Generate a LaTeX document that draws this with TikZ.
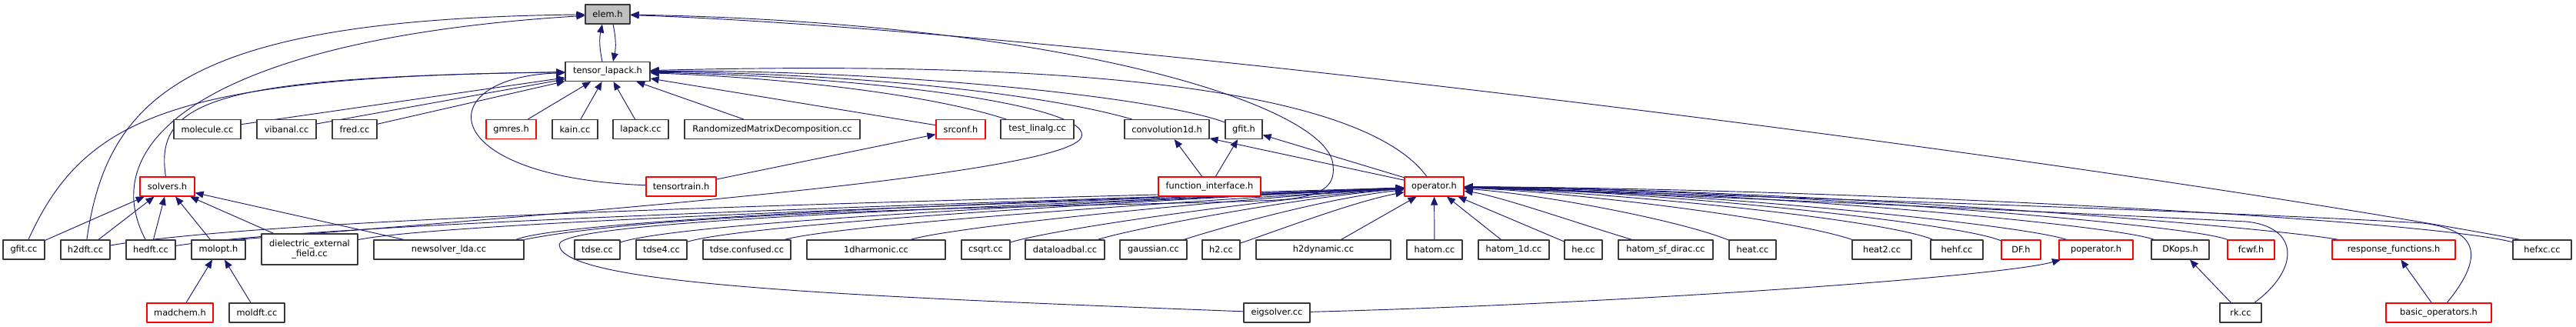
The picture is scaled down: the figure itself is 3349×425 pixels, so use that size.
\documentclass[tikz,border=0pt]{standalone}
\usepackage{fontspec}
\setmainfont{DejaVu Sans}
\usepackage{tikz}
\usepackage{xcolor}
\usetikzlibrary{arrows.meta, positioning, calc, backgrounds}
\definecolor{edgeblue}{HTML}{191970}
\definecolor{truncred}{HTML}{FF0000}
\definecolor{rootgray}{HTML}{BFBFBF}

\begin{document}
\begin{tikzpicture}[x=0.03cm, y=-0.03cm, line join=round,
    file/.style={draw=black!78, fill=white, line width=1pt, minimum height=0.75cm,
      inner sep=0pt, font=\fontsize{9.7}{11.6}\selectfont},
    trunc/.style={file, draw=truncred},
    bw/.style={minimum width=#1*0.03cm},
    edge/.style={draw=edgeblue, line width=0.8pt, -{Triangle[length=0.33cm, width=0.27cm]}}]
    \useasboundingbox (0,0) rectangle (3349,425);
    % Wurzel und Ebene 1
    \node[file, bw=58, fill=rootgray] (elem) at (790,18.5) {elem.h};
    \node[file, bw=110] (tlapack) at (790,93) {tensor\_lapack.h};
    % Ebene 2
    \node[file, bw=87] (molecule) at (269.5,168) {molecule.cc};
    \node[file, bw=77] (vibanal) at (372.5,168) {vibanal.cc};
    \node[file, bw=58] (fred) at (461,168) {fred.cc};
    \node[trunc, bw=65] (gmres) at (664.5,168) {gmres.h};
    \node[file, bw=59] (kain) at (747.5,168) {kain.cc};
    \node[file, bw=72] (lapack) at (833,168) {lapack.cc};
    \node[file, bw=228] (rmd) at (1004,168) {RandomizedMatrixDecomposition.cc};
    \node[trunc, bw=64] (srconf) at (1249,168) {srconf.h};
    \node[file, bw=95] (testlinalg) at (1348.5,168) {test\_linalg.cc};
    \node[file, bw=110] (conv1d) at (1517,168) {convolution1d.h};
    \node[file, bw=48] (gfith) at (1617,168) {gfit.h};
    % Ebene 3
    \node[trunc, bw=71] (solvers) at (217.5,242.5) {solvers.h};
    \node[trunc, bw=91] (ttrain) at (885.5,242.5) {tensortrain.h};
    \node[trunc, bw=133] (funcif) at (1572.5,242.5) {function\_interface.h};
    \node[trunc, bw=77] (operator) at (1864.5,242.5) {operator.h};
    % Ebene 4
    \node[file, bw=54] (gfitcc) at (31,324.5) {gfit.cc};
    \node[file, bw=64] (htwodft) at (111,324.5) {h2dft.cc};
    \node[file, bw=64] (hedft) at (196,324.5) {hedft.cc};
    \node[file, bw=70] (molopt) at (284,324.5) {molopt.h};
    \node[file, bw=125, minimum height=1.2cm, align=center] (dielectric) at (402.5,324)
      {dielectric\_external\\\_field.cc};
    \node[file, bw=195] (newsolver) at (583.5,324.5) {newsolver\_lda.cc};
    \node[file, bw=59] (tdse) at (776.5,324.5) {tdse.cc};
    \node[file, bw=66] (tdsefour) at (860,324.5) {tdse4.cc};
    \node[file, bw=114] (tdseconf) at (971,324.5) {tdse.confused.cc};
    \node[file, bw=180] (harmonic) at (1139,324.5) {1dharmonic.cc};
    \node[file, bw=63] (csqrt) at (1281.5,324.5) {csqrt.cc};
    \node[file, bw=103] (dataload) at (1384.5,324.5) {dataloadbal.cc};
    \node[file, bw=87] (gaussian) at (1499.5,324.5) {gaussian.cc};
    \node[file, bw=49] (htwo) at (1587.5,324.5) {h2.cc};
    \node[file, bw=175] (htwodyn) at (1720.5,324.5) {h2dynamic.cc};
    \node[file, bw=72] (hatom) at (1865,324.5) {hatom.cc};
    \node[file, bw=92] (hatomoned) at (1968,324.5) {hatom\_1d.cc};
    \node[file, bw=49] (he) at (2058.5,324.5) {he.cc};
    \node[file, bw=123] (hatomsf) at (2165.5,324.5) {hatom\_sf\_dirac.cc};
    \node[file, bw=61] (heat) at (2278.5,324.5) {heat.cc};
    \node[file, bw=77] (heattwo) at (2446.5,324.5) {heat2.cc};
    \node[file, bw=68] (hehf) at (2544,324.5) {hehf.cc};
    \node[trunc, bw=51] (df) at (2627.5,324.5) {DF.h};
    \node[trunc, bw=96] (poperator) at (2725,324.5) {poperator.h};
    \node[file, bw=75] (dkops) at (2834.5,324.5) {DKops.h};
    \node[trunc, bw=61] (fcwf) at (2926.5,324.5) {fcwf.h};
    \node[trunc, bw=160] (response) at (3112,324.5) {response\_functions.h};
    \node[file, bw=76] (hefxc) at (3305,324.5) {hefxc.cc};
    % Ebene 5
    \node[trunc, bw=86] (madchem) at (234,406.5) {madchem.h};
    \node[file, bw=72] (moldft) at (334,406.5) {moldft.cc};
    \node[file, bw=86] (eigsolver) at (1660,406.5) {eigsolver.cc};
    \node[file, bw=54] (rk) at (2913,406.5) {rk.cc};
    \node[trunc, bw=137] (basicops) at (3170.5,406.5) {basic\_operators.h};

    \begin{scope}[on background layer]
    % Kanten nach elem.h
    \draw[edge] ([xshift=-0.21cm]tlapack.north) to[bend left=12] ([xshift=-0.21cm]elem.south);
    \draw[edge] ([xshift=0.21cm]elem.south) to[bend left=12] ([xshift=0.21cm]tlapack.north);
    \draw[edge] (htwodft) .. controls (140,120) and (250,25) .. (elem);
    \draw[edge] (hedft) .. controls (120,180) and (280,50) .. (elem);
    \draw[edge] ([xshift=0.3cm]hefxc.north west) .. controls (2700,205) and (1400,40) .. (elem);
    \draw[edge] (newsolver.north east) .. controls (900,268) and (1500,268) .. (1660,260)
      .. controls (1730,256) and (1735,235) .. (1733,215)
      .. controls (1730,140) and (1400,30) .. (elem);
    % Kanten nach tensor_lapack.h
    \draw[edge] (gfitcc) .. controls (110,150) and (230,100) .. (tlapack);
    \draw[edge] (solvers) .. controls (200,130) and (280,100) .. (tlapack);
    \draw[edge] (molecule) -- (tlapack);
    \draw[edge] (vibanal) -- (tlapack);
    \draw[edge] (fred) -- (tlapack);
    \draw[edge] (gmres) -- (tlapack);
    \draw[edge] (kain) -- (tlapack);
    \draw[edge] (lapack) -- (tlapack);
    \draw[edge] (rmd) -- (tlapack);
    \draw[edge] (ttrain) .. controls (560,230) and (560,100) .. (tlapack);
    \draw[edge] (srconf) -- (tlapack);
    \draw[edge] (testlinalg) .. controls (1200,120) and (1000,100) .. (tlapack);
    \draw[edge] (conv1d) .. controls (1350,120) and (1100,95) .. (tlapack);
    \draw[edge] (gfith) .. controls (1500,125) and (1150,90) .. (tlapack);
    \draw[edge] (operator) .. controls (1760,100) and (1300,80) .. (tlapack);
    \draw[edge] ([xshift=-0.36cm]molopt.north east) .. controls (700,280) and (1370,230) .. (1405,180)
      .. controls (1430,140) and (1150,100) .. (tlapack);
    \draw[edge] (ttrain) -- (srconf);
    % Kanten nach solvers.h und molopt.h
    \draw[edge] (gfitcc) -- (solvers);
    \draw[edge] (htwodft) -- (solvers);
    \draw[edge] (hedft) -- (solvers);
    \draw[edge] (molopt) -- (solvers);
    \draw[edge] (dielectric) -- (solvers);
    \draw[edge] (newsolver) -- (solvers);
    \draw[edge] (madchem) -- (molopt);
    \draw[edge] (moldft) -- (molopt);
    % Kanten nach convolution1d.h und gfit.h
    \draw[edge] (funcif) -- (conv1d);
    \draw[edge] (funcif) -- (gfith);
    \draw[edge] (operator) -- (conv1d);
    \draw[edge] (operator) -- (gfith);
    % Kanten nach operator.h (links)
    \draw[edge] (htwodft) .. controls (400,275) and (1500,255) .. (operator);
    \draw[edge] (hedft) .. controls (450,285) and (1500,258) .. (operator);
    \draw[edge] (dielectric) .. controls (600,285) and (1500,260) .. (operator);
    \draw[edge] ([xshift=-0.33cm]newsolver.north east) .. controls (750,280) and (1550,255) .. (operator);
    \draw[edge] (tdse) .. controls (900,285) and (1550,258) .. (operator);
    \draw[edge] (tdsefour) .. controls (980,288) and (1600,255) .. (operator);
    \draw[edge] (tdseconf) .. controls (1100,290) and (1600,258) .. (operator);
    \draw[edge] (harmonic) .. controls (1250,292) and (1650,255) .. (operator);
    \draw[edge] (csqrt) .. controls (1380,295) and (1680,255) .. (operator);
    \draw[edge] (dataload) .. controls (1480,295) and (1700,255) .. (operator);
    \draw[edge] (gaussian) .. controls (1580,298) and (1720,258) .. (operator);
    \draw[edge] (htwo) .. controls (1660,300) and (1760,262) .. (operator);
    \draw[edge] (htwodyn) -- (operator);
    \draw[edge] (eigsolver) .. controls (1100,385) and (730,370) .. (727,318)
      .. controls (727,285) and (1300,270) .. (operator);
    % Kanten nach operator.h (unten und rechts)
    \draw[edge] (hatom) -- (operator);
    \draw[edge] (hatomoned) -- (operator);
    \draw[edge] (he) -- (operator);
    \draw[edge] (hatomsf) .. controls (2050,290) and (1950,255) .. (operator);
    \draw[edge] (heat) .. controls (2180,285) and (2000,252) .. (operator);
    \draw[edge] (heattwo) .. controls (2330,285) and (2050,250) .. (operator);
    \draw[edge] (hehf) .. controls (2450,285) and (2100,250) .. (operator);
    \draw[edge] (df) .. controls (2550,290) and (2150,248) .. (operator);
    \draw[edge] (poperator) .. controls (2630,292) and (2200,248) .. (operator);
    \draw[edge] (dkops) .. controls (2750,292) and (2250,247) .. (operator);
    \draw[edge] (fcwf) .. controls (2850,292) and (2300,246) .. (operator);
    \draw[edge] (response) .. controls (2950,295) and (2350,246) .. (operator);
    \draw[edge] (hefxc) .. controls (3150,285) and (2400,245) .. (operator);
    \draw[edge] (rk) .. controls (2990,350) and (2990,295) .. (2920,288)
      .. controls (2600,272) and (2100,250) .. (operator);
    \draw[edge] (basicops) .. controls (3225,340) and (3230,300) .. (3150,290)
      .. controls (2800,270) and (2100,250) .. (operator);
    % restliche Kanten
    \draw[edge] (eigsolver) .. controls (2100,395) and (2600,360) .. (poperator);
    \draw[edge] (rk) -- (dkops);
    \draw[edge] (basicops) -- (response);
    \end{scope}
  \end{tikzpicture}
\end{document}
